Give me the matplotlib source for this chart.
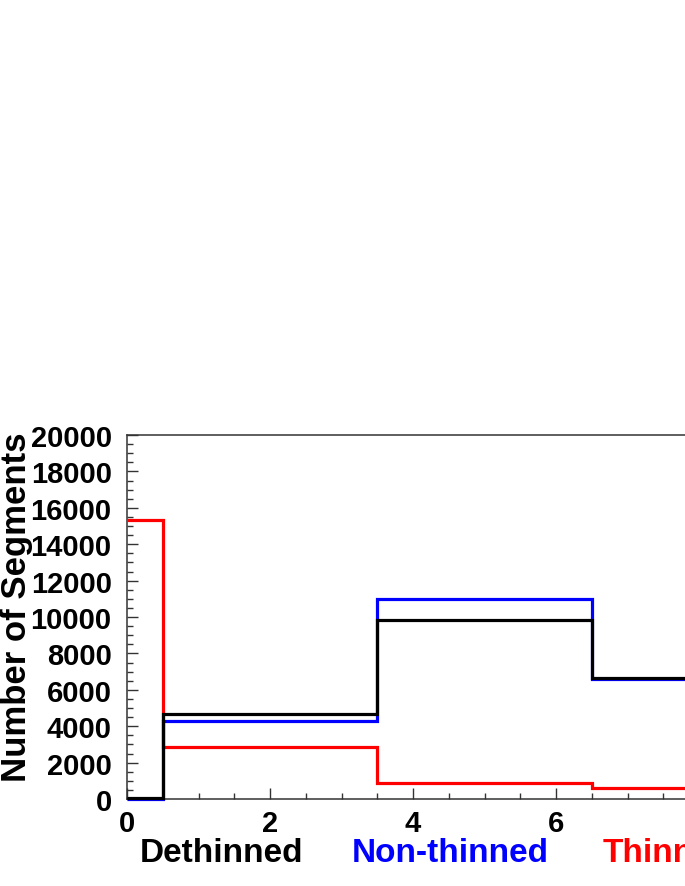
import matplotlib
matplotlib.use('Agg')
import matplotlib.pyplot as plt
from matplotlib.ticker import MultipleLocator

# histogram bin edges (x axis continues past the right edge of the picture)
bin_edges = [0, 0.5, 3.5, 6.5, 10]

# segment counts per bin
dethinned = [80, 4650, 9820, 6640]
non_thinned = [0, 4270, 10980, 6620]
thinned = [15350, 2880, 900, 620]

legend_labels = ['Dethinned', 'Non-thinned', 'Thinned']
legend_colors = ['black', '#0000ff', '#ff0000']

plt.rcParams['font.family'] = ['Liberation Sans', 'DejaVu Sans']
plt.rcParams['font.weight'] = 'bold'

W, H = 685, 887
fig = plt.figure(figsize=(W / 100, H / 100), dpi=100)

# axes placed in pixel terms, wider than the figure (cropped on the right)
x0, y_bottom, y_top = 127, 800, 436
px_per_unit = 71.5
xmax = bin_edges[-1]
ax = fig.add_axes([x0 / W, (H - y_bottom) / H,
                   xmax * px_per_unit / W, (y_bottom - y_top) / H])

lw = 2.3
for vals, col in [(thinned, '#ff0000'), (non_thinned, '#0000ff'), (dethinned, 'black')]:
    ax.stairs(vals, bin_edges, color=col, lw=lw, baseline=None,
              zorder=3, clip_on=False)

ax.set_xlim(0, xmax)
ax.set_ylim(0, 20000)
ax.xaxis.set_major_locator(MultipleLocator(2))
ax.xaxis.set_minor_locator(MultipleLocator(0.5))
ax.yaxis.set_major_locator(MultipleLocator(2000))
ax.yaxis.set_minor_locator(MultipleLocator(500))

ax.tick_params(which='both', direction='in', top=False, right=False,
               width=1, color='#333333')
ax.tick_params(which='major', length=8)
ax.tick_params(which='minor', length=4)
ax.tick_params(axis='y', which='major', labelsize=21, pad=11)
ax.tick_params(axis='x', which='major', labelsize=21, pad=7)
for lab in ax.get_xticklabels() + ax.get_yticklabels():
    lab.set_fontweight('bold')
for sp in ax.spines.values():
    sp.set_linewidth(1.1)
    sp.set_color('#333333')

fig.text(17 / W, 1 - 433 / H, 'Number of Segments', rotation=90,
         ha='center', va='top', fontsize=25, fontweight='bold')

# legend entries written as coloured text under the axis
label_x = [140, 352, 603]
for lx, txt, col in zip(label_x, legend_labels, legend_colors):
    fig.text(lx / W, (H - 862) / H, txt, color=col, fontsize=24,
             fontweight='bold', ha='left', va='baseline')

fig.savefig('out.png', dpi=100)
